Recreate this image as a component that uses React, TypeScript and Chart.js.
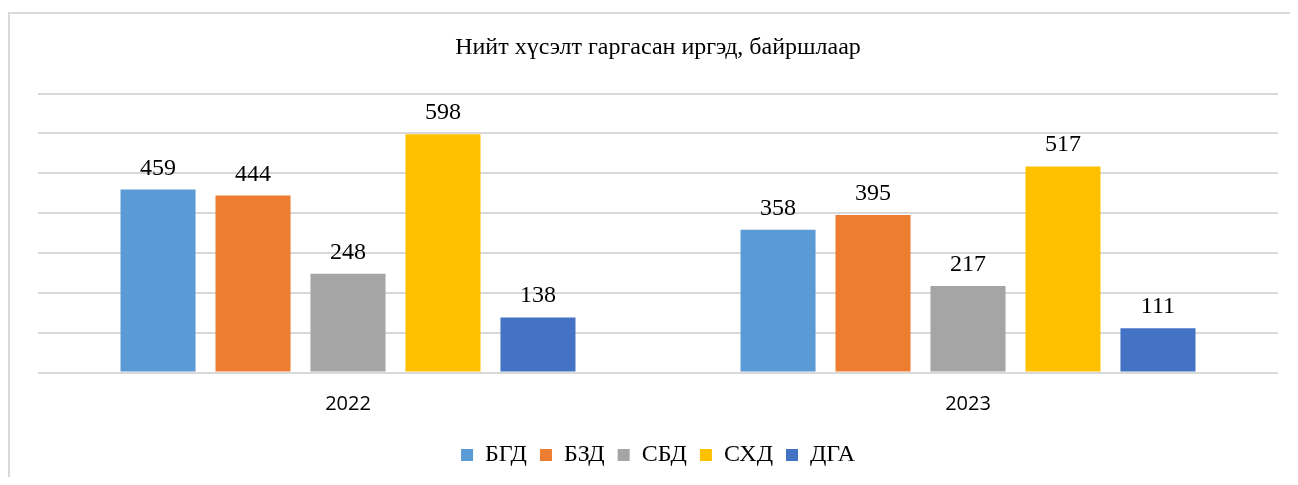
import React, { useEffect, useRef } from "react";
import { Chart, registerables } from "chart.js";

Chart.register(...registerables);

const title = "Нийт хүсэлт гаргасан иргэд, байршлаар";
const categories = ["2022", "2023"];
const seriesNames = ["БГД", "БЗД", "СБД", "СХД", "ДГА"];
const seriesColors = ["#5B9BD5", "#ED7D31", "#A5A5A5", "#FFC000", "#4472C4"];
const bgdValues = [459, 358];
const bzdValues = [444, 395];
const sbdValues = [248, 217];
const shdValues = [598, 517];
const dgaValues = [138, 111];
const seriesValues = [bgdValues, bzdValues, sbdValues, shdValues, dgaValues];

const SERIF = '"Liberation Serif", "Times New Roman", serif';

const valueLabels = {
  id: "valueLabels",
  afterDatasetsDraw(chart: any) {
    const ctx = chart.ctx;
    ctx.save();
    ctx.font = `24px ${SERIF}`;
    ctx.fillStyle = "#000";
    ctx.textAlign = "center";
    ctx.textBaseline = "alphabetic";
    chart.data.datasets.forEach((ds: any, i: number) => {
      const meta = chart.getDatasetMeta(i);
      meta.data.forEach((el: any, j: number) => {
        ctx.fillText(String(ds.data[j]), el.x, el.y - 15);
      });
    });
    ctx.restore();
  },
};

export default function App() {
  const ref = useRef<HTMLCanvasElement>(null);
  useEffect(() => {
    if (!ref.current) return;
    Chart.defaults.font.family = SERIF;
    const chart = new Chart(ref.current, {
      type: "bar",
      data: {
        labels: categories,
        datasets: seriesNames.map((name, i) => ({
          label: name,
          data: seriesValues[i],
          backgroundColor: seriesColors[i],
          borderWidth: 0,
          categoryPercentage: 0.766,
          barPercentage: 0.79,
        })),
      },
      options: {
        animation: false,
        responsive: false,
        maintainAspectRatio: false,
        layout: { padding: { left: 28, right: 20, top: 0, bottom: 0 } },
        plugins: {
          title: {
            display: true,
            text: title,
            color: "#000",
            font: { family: SERIF, size: 24, weight: "normal" },
            padding: { top: 19.6, bottom: 31.1 },
          },
          legend: {
            position: "bottom",
            labels: {
              color: "#000",
              boxWidth: 12,
              boxHeight: 12,
              padding: 13,
              font: { family: SERIF, size: 24 },
            },
          },
          tooltip: { enabled: false },
        },
        scales: {
          x: {
            grid: { display: false, drawTicks: false },
            border: { display: false },
            ticks: {
              color: "#000",
              padding: 19.5,
              font: { family: '"Open Sans", sans-serif', size: 20 },
            },
            afterFit: (s: any) => {
              s.height = 57.5;
            },
          },
          y: {
            min: 0,
            max: 700,
            ticks: { display: false, stepSize: 100 },
            grid: { color: "#d9d9d9", lineWidth: 2, drawTicks: false },
            border: { display: false },
            afterFit: (s: any) => {
              s.width = 0;
            },
          },
        },
      },
      plugins: [valueLabels],
    });
    return () => chart.destroy();
  }, []);

  return (
    <div style={{ paddingTop: 4 }}>
      <div
        style={{
          borderTop: "2px solid #d9d9d9",
          borderLeft: "2px solid #d9d9d9",
          width: 1288,
          height: 463,
        }}
      >
        <canvas ref={ref} width={1288} height={463} style={{ display: "block" }} />
      </div>
    </div>
  );
}
